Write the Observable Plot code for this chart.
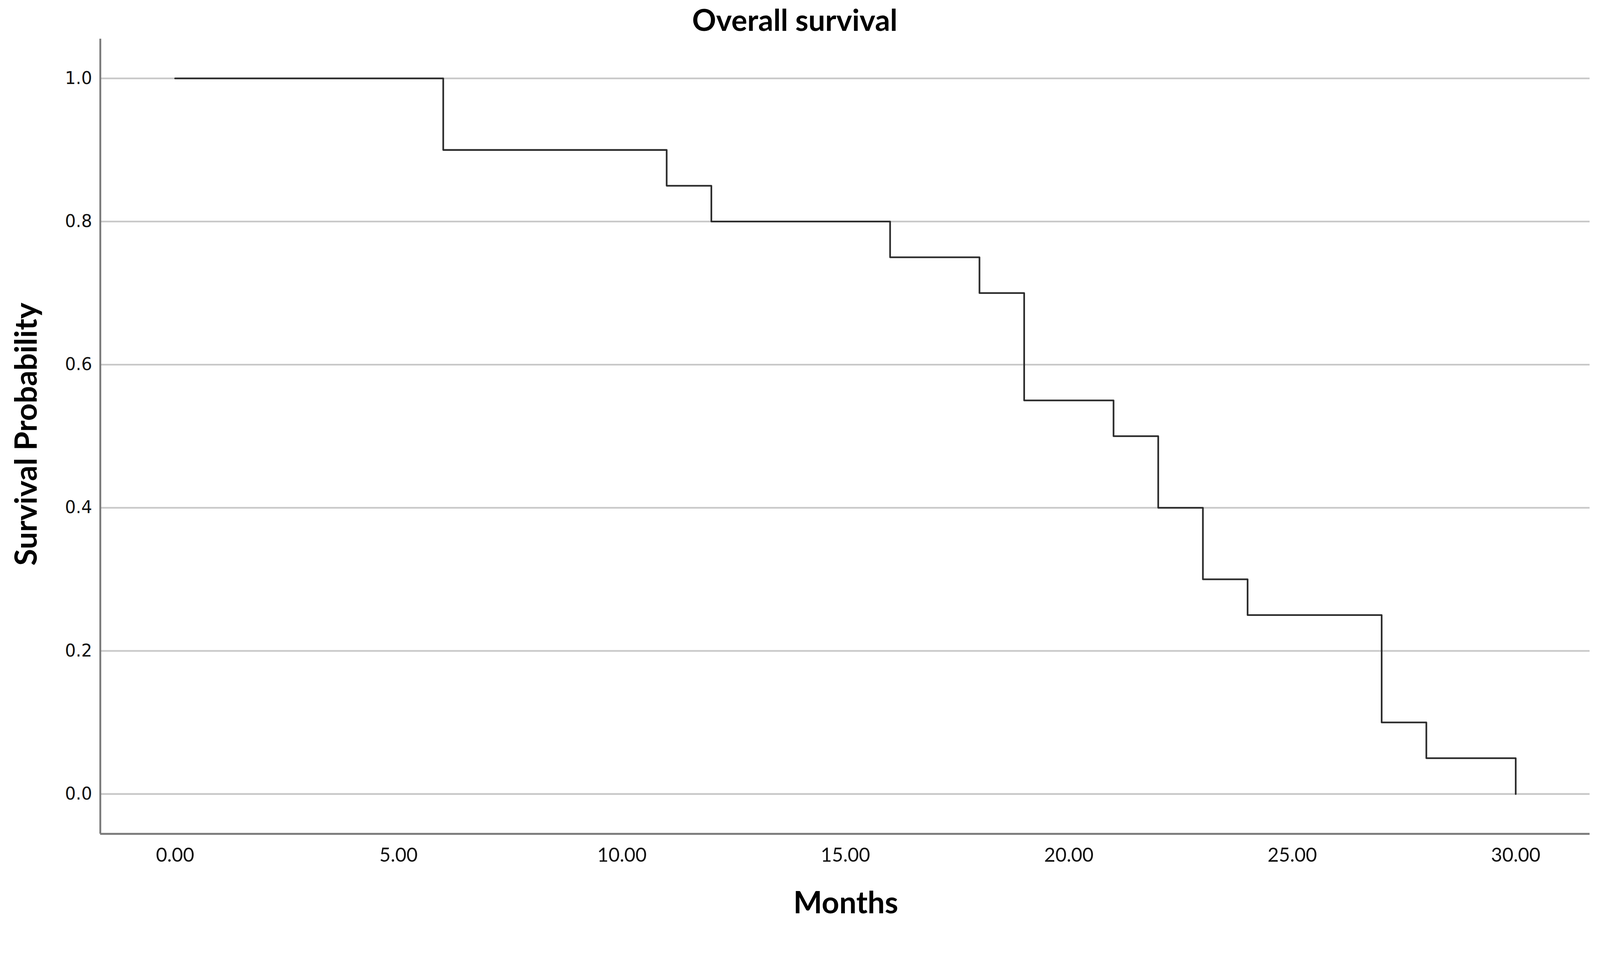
<!DOCTYPE html>
<html>
<head>
<meta charset="utf-8">
<script src="https://cdn.jsdelivr.net/npm/d3@7"></script>
<script src="https://cdn.jsdelivr.net/npm/@observablehq/plot@0.6"></script>
<style>
  html, body { margin: 0; padding: 0; background: #fff; }
  #chart svg { display: block; }
</style>
</head>
<body>
<div id="chart"></div>
<script>
// Kaplan-Meier step points (months, survival probability)
const months   = [0, 6, 11, 12, 16, 18, 19, 21, 22, 23, 24, 27, 28, 30];
const survival = [1.0, 0.9, 0.85, 0.8, 0.75, 0.7, 0.55, 0.5, 0.4, 0.3, 0.25, 0.1, 0.05, 0.0];
const xTicks = [0, 5, 10, 15, 20, 25, 30];
const yTicks = [0, 0.2, 0.4, 0.6, 0.8, 1.0];
const xDomain = [-1.674, 31.657];
const yDomain = [-0.0557, 1.0552];
const titleText = "Overall survival";
const xLabel = "Months";
const yLabel = "Survival Probability";

const data = months.map((m, i) => ({month: m, surv: survival[i]}));

const chart = Plot.plot({
  width: 4299,
  height: 2477,
  marginLeft: 269,
  marginRight: 28,
  marginTop: 104,
  marginBottom: 238,
  style: {background: "#fff"},
  x: {domain: xDomain},
  y: {domain: yDomain},
  marks: [
    Plot.ruleY(yTicks, {stroke: "#c8c8c8", strokeWidth: 4.5}),
    Plot.line(data, {x: "month", y: "surv", curve: "step-after", stroke: "#2b2b2b", strokeWidth: 4.5}),
    Plot.ruleX([xDomain[0]], {stroke: "#7a7a7a", strokeWidth: 5}),
    Plot.ruleY([yDomain[0]], {stroke: "#7a7a7a", strokeWidth: 5}),
    Plot.axisY({ticks: yTicks, tickFormat: d3.format(".1f"), tickSize: 0, tickPadding: 22,
      fontSize: 46, fontFamily: "DejaVu Sans", fill: "#111", label: null}),
    Plot.axisX({ticks: xTicks, tickFormat: d3.format(".2f"), tickSize: 0, tickPadding: 38,
      fontSize: 52, fontFamily: "Lato", fill: "#111", label: null}),
    Plot.text([titleText], {frameAnchor: "top", dx: -135, dy: -22, lineAnchor: "bottom",
      fontSize: 80, fontWeight: "bold", fontFamily: "Lato", fill: "#000"}),
    Plot.text([xLabel], {frameAnchor: "bottom", dx: 2, dy: 213, lineAnchor: "bottom",
      fontSize: 82, fontWeight: "bold", fontFamily: "Lato", fill: "#000"}),
    Plot.text([yLabel], {frameAnchor: "left", dx: -197, dy: -6, rotate: -90, lineAnchor: "middle",
      textAnchor: "middle", fontSize: 82, fontWeight: "bold", fontFamily: "Lato", fill: "#000"})
  ]
});
document.getElementById("chart").appendChild(chart);
</script>
</body>
</html>
